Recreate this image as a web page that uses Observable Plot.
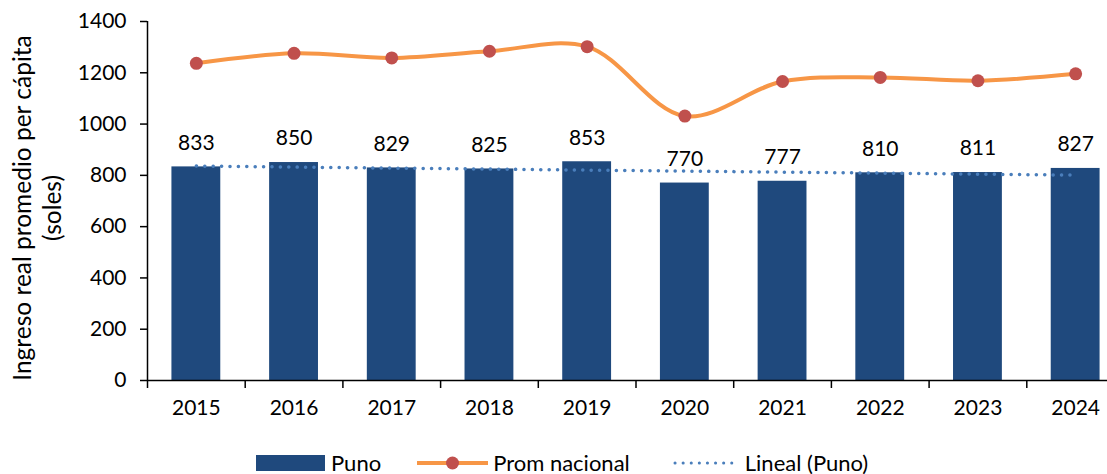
<!DOCTYPE html>
<html>
<head>
<meta charset="utf-8">
<script src="https://cdn.jsdelivr.net/npm/d3@7"></script>
<script src="https://cdn.jsdelivr.net/npm/@observablehq/plot@0.6"></script>
<style>
  html, body { margin: 0; padding: 0; background: #fff; overflow: hidden; }
  #wrap { position: relative; width: 1107px; height: 474px; font-family: Lato, "Open Sans", sans-serif; }
  #legend { position: absolute; left: 256px; top: 452px; display: flex; align-items: center; font-size: 22px; color: #000; line-height: 22px; }
  #legend .item { display: flex; align-items: center; }
  #legend svg { display: block; }
</style>
</head>
<body>
<div id="wrap"><div id="chart"></div><div id="legend"></div></div>
<script>
const years = ["2015", "2016", "2017", "2018", "2019", "2020", "2021", "2022", "2023", "2024"];
const puno = [833, 850, 829, 825, 853, 770, 777, 810, 811, 827];
const promNacional = [1237, 1276, 1258, 1284, 1302, 1031, 1166, 1182, 1169, 1196];
const yTicks = [0, 200, 400, 600, 800, 1000, 1200, 1400];
const legendLabels = ["Puno", "Prom nacional", "Lineal (Puno)"];
const yTitle = ["Ingreso real promedio per cápita", "(soles)"];

const colBar = "#1f497d", colLine = "#f79646", colDot = "#c0504d", colTrend = "#4a7ebb";

const data = years.map((y, i) => ({year: y, puno: puno[i], prom: promNacional[i], i}));

// linear trend (least squares) of Puno over the index
const mx = d3.mean(data, d => d.i), my = d3.mean(data, d => d.puno);
const slope = d3.sum(data, d => (d.i - mx) * (d.puno - my)) / d3.sum(data, d => (d.i - mx) ** 2);
const trend = data.map(d => ({year: d.year, v: my + slope * (d.i - mx)}));

const W = 1107, H = 430, mL = 147, mT = 21, mB = 50;
const xRange = [147, 1124];
const step = (xRange[1] - xRange[0]) / years.length;
const plotH = H - mT - mB;

const chart = Plot.plot({
  width: W, height: H,
  marginLeft: mL, marginRight: 0, marginTop: mT, marginBottom: mB,
  style: {fontFamily: "Lato, 'Open Sans', sans-serif", fontSize: "20px", color: "#000", background: "white", overflow: "visible"},
  x: {type: "band", domain: years, range: xRange, paddingInner: 0.5, paddingOuter: 0.25, round: false},
  y: {domain: [0, 1400]},
  marks: [
    Plot.barY(data, {x: "year", y: "puno", fill: colBar}),
    Plot.ruleY([0], {stroke: "#000", strokeWidth: 1.5}),
    Plot.ruleX([years[0]], {dx: -step / 2, stroke: "#000", strokeWidth: 1.5}),
    Plot.ruleX(years, {dx: -step / 2, insetTop: plotH, insetBottom: -8, stroke: "#000", strokeWidth: 1.5}),
    Plot.axisY({ticks: yTicks, tickFormat: d => String(d), tickSize: 7, tickPadding: 14, label: null, fontSize: 21, strokeWidth: 1.5}),
    Plot.axisX({tickSize: 0, tickPadding: 20, label: null, fontSize: 21}),
    Plot.line(trend, {x: "year", y: "v", stroke: colTrend, strokeWidth: 3.5, strokeDasharray: "0.1 8.3", strokeLinecap: "round"}),
    Plot.line(data, {x: "year", y: "prom", stroke: colLine, strokeWidth: 4, curve: "catmull-rom"}),
    Plot.dot(data, {x: "year", y: "prom", r: 6.5, fill: colDot}),
    Plot.text(data, {x: "year", y: "puno", text: d => String(d.puno), dy: -24, fontSize: 21, fill: "#000"}),
    Plot.text([yTitle[0]], {frameAnchor: "left", dx: -124, dy: 7, rotate: -90, fontSize: 24.5, fill: "#000", textAnchor: "middle", lineAnchor: "middle"}),
    Plot.text([yTitle[1]], {frameAnchor: "left", dx: -94, dy: 7, rotate: -90, fontSize: 24.5, fill: "#000", textAnchor: "middle", lineAnchor: "middle"})
  ]
});
document.getElementById("chart").appendChild(chart);

// legend
const legend = d3.select("#legend");
const items = [
  {label: legendLabels[0], draw: s => s.append("rect").attr("x", 0).attr("y", 1).attr("width", 69).attr("height", 16).attr("fill", colBar), w: 69, gap: 6, after: 36},
  {label: legendLabels[1], draw: s => { s.append("line").attr("x1", 0).attr("x2", 71).attr("y1", 9).attr("y2", 9).attr("stroke", colLine).attr("stroke-width", 4); s.append("circle").attr("cx", 35.5).attr("cy", 9).attr("r", 6.5).attr("fill", colDot); }, w: 71, gap: 5, after: 43},
  {label: legendLabels[2], draw: s => s.append("line").attr("x1", 2).attr("x2", 65).attr("y1", 9).attr("y2", 9).attr("stroke", colTrend).attr("stroke-width", 3).attr("stroke-dasharray", "0.1 8").attr("stroke-linecap", "round"), w: 66, gap: 6, after: 0}
];
items.forEach(it => {
  const d = legend.append("div").attr("class", "item").style("margin-right", it.after + "px");
  const s = d.append("svg").attr("width", it.w).attr("height", 18);
  it.draw(s);
  d.append("span").style("margin-left", it.gap + "px").text(it.label);
});
</script>
</body>
</html>
